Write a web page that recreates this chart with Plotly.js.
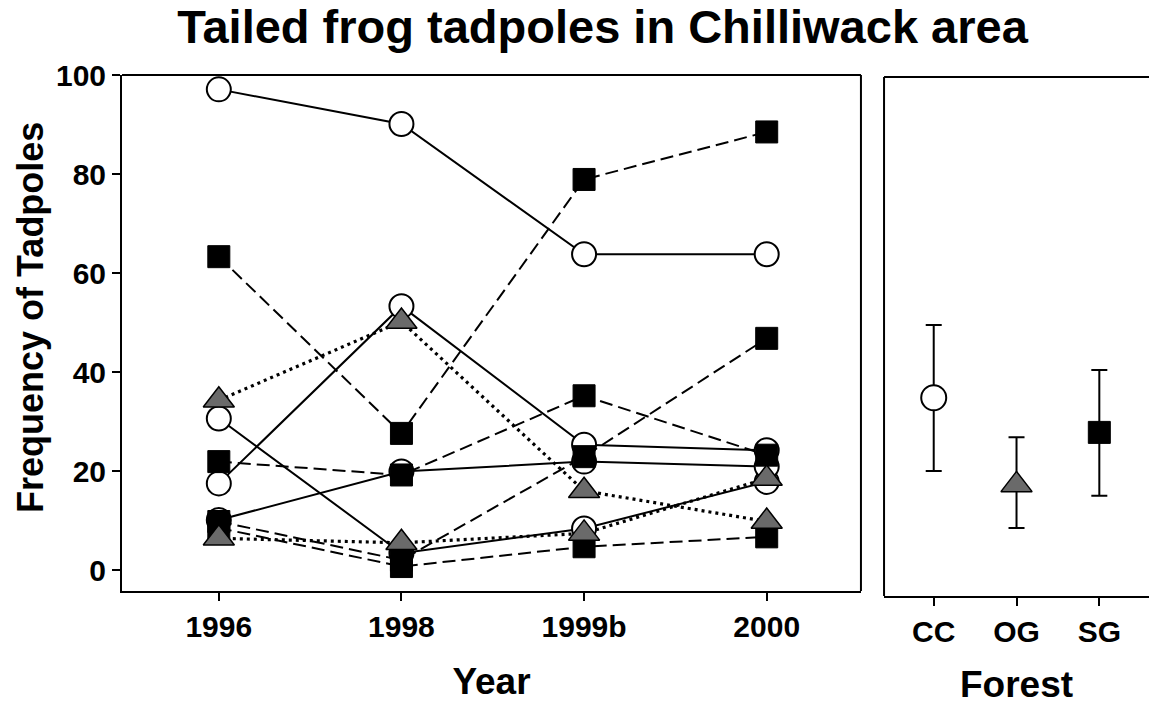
<!DOCTYPE html>
<html>
<head>
<meta charset="utf-8">
<script src="https://cdn.plot.ly/plotly-3.0.1.min.js"></script>
<style>html,body{margin:0;padding:0;background:#fff;overflow:hidden;}#chart{width:1149px;height:705px;}</style>
</head>
<body>
<div id="chart"></div>
<script>
// ---- data ----
const years = ['1996', '1998', '1999b', '2000'];
// clear-cut (CC) streams: open circles, solid lines
const cc1 = [97.1, 90.1, 63.8, 63.8];
const cc2 = [30.6, 3.4, 8.4, 17.8];
const cc3 = [17.5, 53.3, 25.3, 24.2];
const cc4 = [10.1, 19.9, 21.9, 20.9];
// second-growth (SG) streams: filled squares, dashed lines
const sg1 = [63.3, 27.6, 78.9, 88.5];
const sg2 = [21.9, 19.2, 35.2, 23.2];
const sg3 = [9.8, 2.0, 22.9, 46.8];
const sg4 = [8.5, 0.7, 4.7, 6.7];
// old-growth (OG) streams: grey triangles, dotted lines
const og1 = [34.3, 50.2, 16.0, 9.8];
const og2 = [6.4, 5.5, 7.4, 18.5];

// forest-type means with error bar limits
const forests = ['CC', 'OG', 'SG'];
const forestMeans = [34.8, 17.2, 27.8];
const forestUpper = [49.5, 26.8, 40.4];
const forestLower = [20.0, 8.5, 15.0];

const yTicks = [0, 20, 40, 60, 80, 100];

// ---- styles ----
const FONT = 'Liberation Sans, Arial, Helvetica, sans-serif';
const TRI_FILL = '#6a6a6a';
const ccSeries = [cc1, cc2, cc3, cc4];
const sgSeries = [sg1, sg2, sg3, sg4];
const ogSeries = [og1, og2];

const traces = [];
function lineTrace(y, dash, width) {
  return {x: years, y: y, type: 'scatter', mode: 'lines', xaxis: 'x', yaxis: 'y',
    line: {color: 'black', width: width, dash: dash}, hoverinfo: 'skip'};
}
ccSeries.forEach(s => traces.push(lineTrace(s, 'solid', 2)));
sgSeries.forEach(s => traces.push(lineTrace(s, '13px,6px', 2)));
ogSeries.forEach(s => traces.push(lineTrace(s, '3px,4px', 3.2)));

const circleMarker = {symbol: 'circle', size: 24, color: 'white', line: {color: 'black', width: 2}};
const squareMarker = {symbol: 'square', size: 22, color: 'black', line: {color: 'black', width: 1}};
const triMarker = {symbol: 'triangle-up', size: 27, color: TRI_FILL, line: {color: 'black', width: 1.5}};

ccSeries.forEach(s => traces.push({x: years, y: s, type: 'scatter', mode: 'markers', xaxis: 'x', yaxis: 'y', marker: circleMarker}));
sgSeries.forEach(s => traces.push({x: years, y: s, type: 'scatter', mode: 'markers', xaxis: 'x', yaxis: 'y', marker: squareMarker}));
ogSeries.forEach(s => traces.push({x: years, y: s, type: 'scatter', mode: 'markers', xaxis: 'x', yaxis: 'y', marker: triMarker}));

// right panel: means with error bars
const markerFor = [circleMarker, triMarker, squareMarker];
forests.forEach((f, i) => {
  traces.push({
    x: [f], y: [forestMeans[i]], type: 'scatter', mode: 'markers', xaxis: 'x2', yaxis: 'y2',
    marker: Object.assign({}, markerFor[i], i === 0 ? {size: 25} : {}),
    error_y: {type: 'data', symmetric: false,
      array: [forestUpper[i] - forestMeans[i]],
      arrayminus: [forestMeans[i] - forestLower[i]],
      color: 'black', thickness: 2, width: 8}
  });
});

const tickFont = {family: FONT, size: 30, color: 'black', weight: 700};
const titleFont = {family: FONT, size: 37, color: 'black', weight: 700};
const frame = {color: 'black', width: 2};

const layout = {
  width: 1149, height: 705,
  margin: {l: 0, r: 0, t: 0, b: 0},
  paper_bgcolor: 'white', plot_bgcolor: 'white',
  showlegend: false,
  title: {text: 'Tailed frog tadpoles in Chilliwack area', font: {family: FONT, size: 47, color: 'black', weight: 700},
    x: 0.5244, xanchor: 'center', xref: 'paper', y: 0.9624, yanchor: 'middle', yref: 'container'},
  xaxis: {
    domain: [0.1062, 0.7493], range: [-0.53, 3.516], type: 'category',
    showline: true, linewidth: 2, linecolor: 'black', mirror: false,
    ticks: 'outside', ticklen: 8, tickwidth: 2, tickcolor: 'black',
    showgrid: false, zeroline: false, tickfont: tickFont,
    title: {text: 'Year', font: titleFont, standoff: 26}
  },
  yaxis: {
    domain: [0.1617, 0.8936], range: [-4.24, 100],
    tickvals: yTicks,
    showline: true, linewidth: 2, linecolor: 'black', mirror: false,
    ticks: 'outside', ticklen: 8, tickwidth: 2, tickcolor: 'black',
    showgrid: false, zeroline: false, tickfont: tickFont
  },
  xaxis2: {
    anchor: 'y2', domain: [0.7694, 1], range: [-0.6, 2.6], type: 'category',
    showline: true, linewidth: 2, linecolor: 'black', mirror: false,
    ticks: 'outside', ticklen: 8, tickwidth: 2, tickcolor: 'black',
    showgrid: false, zeroline: false, tickfont: tickFont,
    title: {text: 'Forest', font: titleFont, standoff: 24}
  },
  yaxis2: {
    anchor: 'x2', domain: [0.1546, 0.8908], range: [-5.25, 99.6],
    showline: false, mirror: false,
    showticklabels: false, ticks: '', showgrid: false, zeroline: false
  },
  shapes: [
    // left panel: top and right edges
    {type: 'line', xref: 'x domain', yref: 'y domain', x0: 0, x1: 1, y0: 1, y1: 1, line: frame},
    {type: 'line', xref: 'x domain', yref: 'y domain', x0: 1, x1: 1, y0: 0, y1: 1, line: frame},
    // right panel: top and left edges (its right edge lies beyond the picture)
    {type: 'line', xref: 'x2 domain', yref: 'y2 domain', x0: 0, x1: 1, y0: 1, y1: 1, line: frame},
    {type: 'line', xref: 'x2 domain', yref: 'y2 domain', x0: 0, x1: 0, y0: 0, y1: 1, line: frame},
    // keep the right panel open at the picture's right edge
    {type: 'rect', xref: 'paper', yref: 'paper', x0: 1143 / 1149, x1: 1, y0: (705 - 594) / 705, y1: (705 - 79) / 705,
      fillcolor: 'white', line: {width: 0}, layer: 'above'}
  ],
  annotations: [
    {text: 'Frequency of Tadpoles', xref: 'paper', yref: 'paper', x: 30 / 1149, y: 1 - 318 / 705,
      xanchor: 'center', yanchor: 'middle', textangle: -90, showarrow: false,
      font: {family: FONT, size: 36, color: 'black', weight: 700}}
  ]
};

Plotly.newPlot('chart', traces, layout, {displayModeBar: false, staticPlot: true});
</script>
</body>
</html>
